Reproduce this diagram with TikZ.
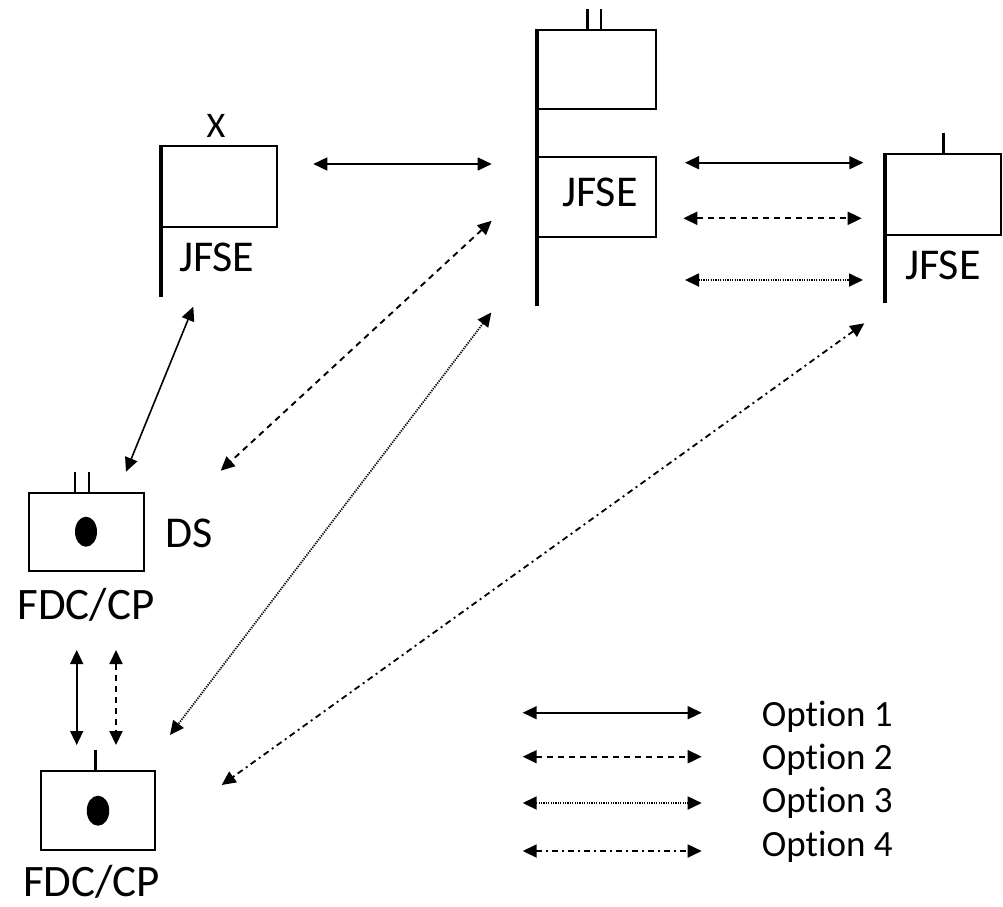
\documentclass[tikz,border=0pt]{standalone}
\usepackage{fontspec}
\setmainfont{Carlito}[Ligatures=NoCommon]
\usetikzlibrary{arrows.meta,shapes.geometric}
\newcommand{\optword}{Opt\kern0pt ion}
\begin{document}
\begin{tikzpicture}[x=1pt,y=-1pt,
  staff/.style={line width=3.2pt},
  tick/.style={line width=2.8pt},
  sym/.style={draw,line width=1.8pt,rectangle,inner sep=0pt,anchor=north west},
  dot/.style={fill=black,ellipse,inner sep=0pt},
  lbl/.style={anchor=base,inner sep=0pt,font=\fontsize{44}{48}\selectfont},
  opt/.style={anchor=base west,inner sep=0pt,font=\fontsize{37}{40}\selectfont},
  link/.style={line width=1.6pt,{Triangle[length=14pt,width=13pt]}-{Triangle[length=14pt,width=13pt]}},
  opt1/.style={link},
  opt2/.style={link,line width=1.9pt,dash pattern=on 6pt off 5pt},
  opt3/.style={link,line width=1.8pt,dash pattern=on 1.2pt off 1.2pt},
  opt4/.style={link,line width=1.8pt,dash pattern=on 6pt off 4pt on 2pt off 4pt}]
\useasboundingbox (0,0) rectangle (1003,906);

% left JFSE (X)
\node[sym,minimum width=115pt,minimum height=81pt] (lbox) at (161,145) {};
\draw[staff] (lbox.north west) -- (161,297);
\node[anchor=base,inner sep=0pt,font=\fontsize{36}{40}\selectfont] (lx) at (216,137.5) {X};
\node[lbl] (ljfse) at (216.7,271.7) {JFSE};

% middle JFSE (II)
\node[sym,minimum width=118pt,minimum height=79pt] (mtop) at (537,29) {};
\node[sym,minimum width=118pt,minimum height=80pt] (mbox) at (537,156) {};
\draw[staff] (mtop.north west) -- (537,306);
\draw[tick] (587.7,9) -- (587.7,29);
\draw[tick] (601,9) -- (601,29);
\node[lbl] (mjfse) at (600,206.7) {JFSE};

% right JFSE (I)
\node[sym,minimum width=115pt,minimum height=81pt] (rbox) at (885,153) {};
\draw[staff] (rbox.north west) -- (885,303);
\draw[tick] (943.3,133) -- (943.3,153);
\node[lbl] (rjfse) at (943,279) {JFSE};

% FDC/CP (II) DS
\node[sym,minimum width=115pt,minimum height=78pt] (ftop) at (28,492) {};
\draw[tick] (75,472) -- (75,492);
\draw[tick] (89,472) -- (89,492);
\node[dot,minimum width=22pt,minimum height=30pt] (ftopdot) at (86,531.7) {};
\node[lbl] (ds) at (189,547.3) {DS};
\node[lbl,font=\fontsize{45}{48}\selectfont] (ftoplbl) at (86,619) {FDC/CP};

% FDC/CP (I)
\node[sym,minimum width=114pt,minimum height=79pt] (fbot) at (40,770) {};
\draw[tick] (95.7,750) -- (95.7,770);
\node[dot,minimum width=22.5pt,minimum height=30pt] (fbotdot) at (98,810.7) {};
\node[lbl,font=\fontsize{45}{48}\selectfont] (fbotlbl) at (91.7,896) {FDC/CP};

% connector end points
\coordinate (a1) at (313.3,164);   \coordinate (a2) at (491.7,164);
\coordinate (b1) at (685,162.7);   \coordinate (b2) at (863.3,162.7);
\coordinate (c1) at (683.3,218.3); \coordinate (c2) at (861.7,218.3);
\coordinate (d1) at (685,280);     \coordinate (d2) at (863,280);
\coordinate (e1) at (193.3,306.7); \coordinate (e2) at (126,471.7);
\coordinate (f1) at (491.7,220.7); \coordinate (f2) at (220.7,470.7);
\coordinate (g1) at (491.3,312.5); \coordinate (g2) at (170,735);
\coordinate (h1) at (864.3,323.3); \coordinate (h2) at (221.7,785);
\coordinate (i1) at (76.7,650);    \coordinate (i2) at (76.7,745);
\coordinate (j1) at (116,650);     \coordinate (j2) at (116,745);

\draw[opt1] (a1) -- (a2);
\draw[opt1] (b1) -- (b2);
\draw[opt2] (c1) -- (c2);
\draw[opt3] (d1) -- (d2);
\draw[opt1] (e1) -- (e2);
\draw[opt2] (f1) -- (f2);
\draw[opt3] (g1) -- (g2);
\draw[opt4] (h1) -- (h2);
\draw[opt1] (i1) -- (i2);
\draw[opt2] (j1) -- (j2);

% legend
\coordinate (k1) at (522.7,712.7); \coordinate (k2) at (701.7,712.7);
\coordinate (l1) at (522.7,756.7); \coordinate (l2) at (701.7,756.7);
\coordinate (m1) at (522.7,803);   \coordinate (m2) at (701.7,803);
\coordinate (n1) at (522.7,851);   \coordinate (n2) at (701.7,851);
\draw[opt1] (k1) -- (k2);
\draw[opt2] (l1) -- (l2);
\draw[opt3] (m1) -- (m2);
\draw[opt4] (n1) -- (n2);
\node[opt] (o1) at (761.7,726) {\optword{} 1};
\node[opt] (o2) at (761.7,769) {\optword{} 2};
\node[opt] (o3) at (761.7,812) {\optword{} 3};
\node[opt] (o4) at (761.7,856) {\optword{} 4};
\end{tikzpicture}
\end{document}
